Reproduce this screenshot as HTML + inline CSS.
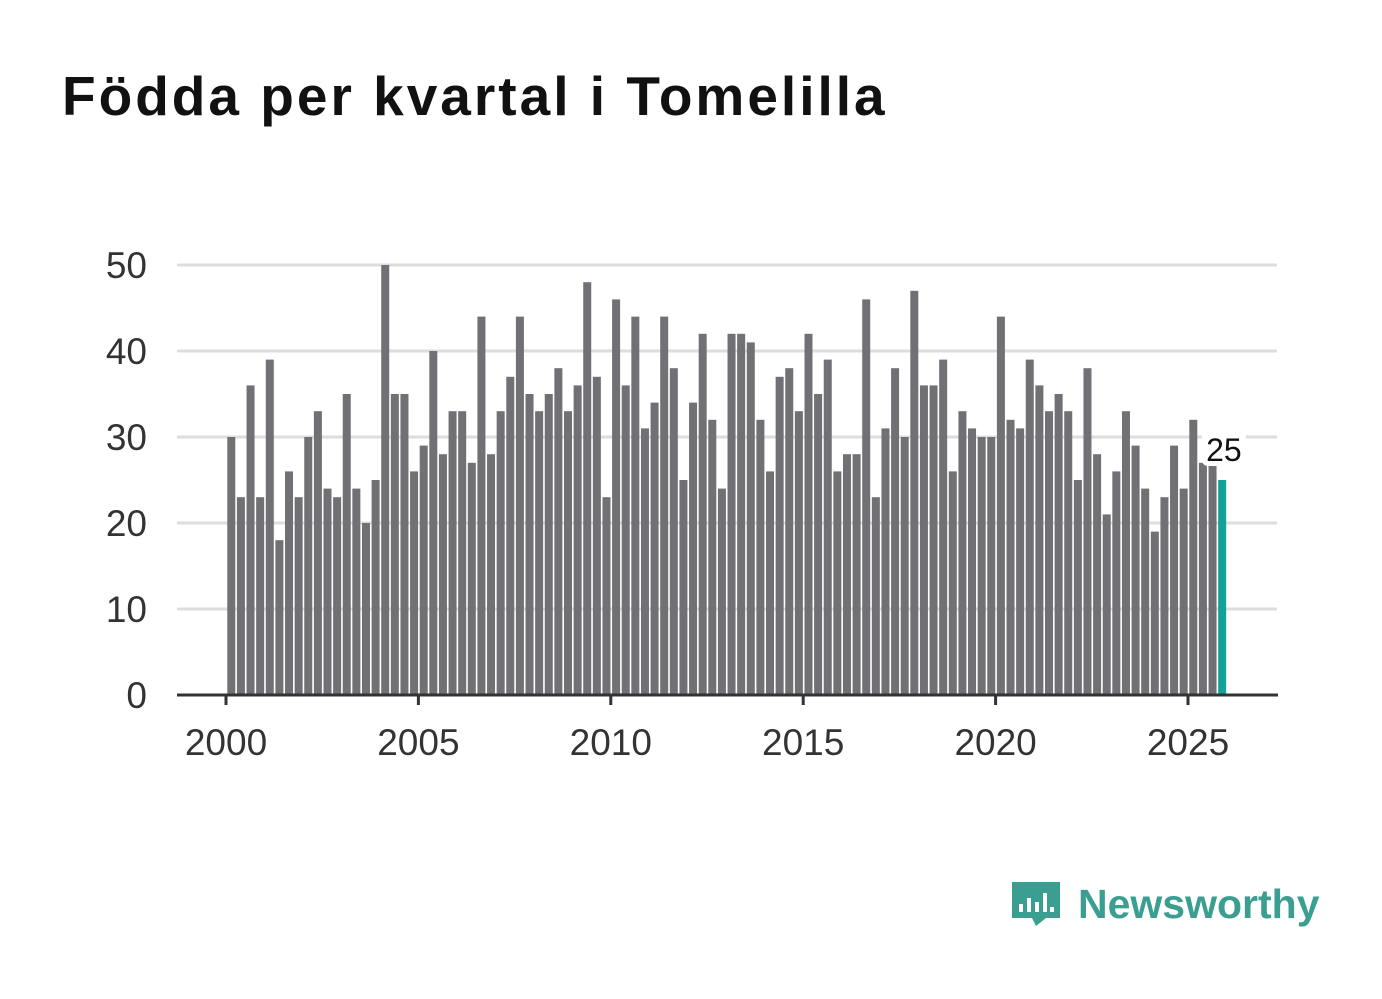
<!DOCTYPE html>
<html><head><meta charset="utf-8">
<style>
body{margin:0;background:#fff;width:1382px;height:999px;overflow:hidden;font-family:"Liberation Sans","DejaVu Sans",sans-serif;}
h1{position:absolute;left:62px;top:64px;margin:0;font-size:55px;font-weight:bold;color:#111;letter-spacing:3px;}
</style></head>
<body>
<h1>Födda per kvartal i Tomelilla</h1>
<svg id="chart" width="1382" height="999" style="position:absolute;left:0;top:0">
<g id="grid"></g><g id="bars"></g><g id="axis"></g>
<g>
<path d="M1012 882 h48 v36 h-14 l-10 8 l-4 -8 h-20 z" fill="#3a9e91"/>
<rect x="1019" y="904" width="4" height="8" fill="#fff"/><rect x="1027" y="898" width="4" height="14" fill="#fff"/><rect x="1035" y="902" width="4" height="10" fill="#fff"/><rect x="1043" y="893" width="4" height="19" fill="#fff"/><rect x="1050" y="907" width="4" height="5" fill="#fff"/>
<text x="1078" y="918" font-size="41" font-weight="bold" fill="#3a9e91" font-family="Liberation Sans, sans-serif">Newsworthy</text>
</g>
</svg>
<script>
const years=[2000,2001,2002,2003,2004,2005,2006,2007,2008,2009,2010,2011,2012,2013,2014,2015,2016,2017,2018,2019,2020,2021,2022,2023,2024,2025];
const values=[30,23,36,23, 39,18,26,23, 30,33,24,23, 35,24,20,25, 50,35,35,26, 29,40,28,33, 33,27,44,28, 33,37,44,35, 33,35,38,33, 36,48,37,23, 46,36,44,31, 34,44,38,25, 34,42,32,24, 42,42,41,32, 26,37,38,33, 42,35,39,26, 28,28,46,23, 31,38,30,47, 36,36,39,26, 33,31,30,30, 44,32,31,39, 36,33,35,33, 25,38,28,21, 26,33,29,24, 19,23,29,24, 32,27,27,25];
const yTicks=[0,10,20,30,40,50];
const xTicks=[2000,2005,2010,2015,2020,2025];
const NS="http://www.w3.org/2000/svg";
const x=t=>226+(t-2000)*38.48;
const y=v=>695-v*8.6;
function mk(tag,attrs,parent){const e=document.createElementNS(NS,tag);for(const k in attrs)e.setAttribute(k,attrs[k]);parent.appendChild(e);return e;}
const grid=document.getElementById('grid'),bars=document.getElementById('bars'),axis=document.getElementById('axis');
yTicks.forEach(v=>{
 if(v>0){const l=mk('line',{x1:177,x2:1277,y1:y(v),y2:y(v),stroke:'#dddddd','stroke-width':3},grid);
 
 }
 const t=mk('text',{x:147,y:y(v)+13,'font-size':37,'text-anchor':'end',fill:'#333'},grid);
 t.textContent=v;
 
 
});
values.forEach((v,i)=>{
 const last=i===values.length-1;
 const r=mk('rect',{x:x(2000+i/4)+1.3,y:y(v),width:8,height:v*8.6,fill:last?'#13a396':'#707075'},bars);
 
 
});
const al=mk('line',{x1:177,x2:1278,y1:695,y2:695,stroke:'#333','stroke-width':3},axis);


xTicks.forEach(t=>{
 const tk=mk('line',{x1:x(t),x2:x(t),y1:695,y2:705,stroke:'#333','stroke-width':3},axis);
 
 
 const tx=mk('text',{x:x(t),y:755,'font-size':37,'text-anchor':'middle',fill:'#333'},axis);
 tx.textContent=t;
 
 
});
const lv=values[values.length-1];
const lbx=x(2000+(values.length-1)/4)+5;
const bg=mk('rect',{x:lbx-20,y:y(lv)-50,width:44,height:36,rx:6,fill:'#fff'},axis);


const lab=mk('text',{x:lbx+2,y:y(lv)-19,'font-size':32,'text-anchor':'middle',fill:'#111'},axis);
lab.textContent=lv;


</script>
</body></html>
